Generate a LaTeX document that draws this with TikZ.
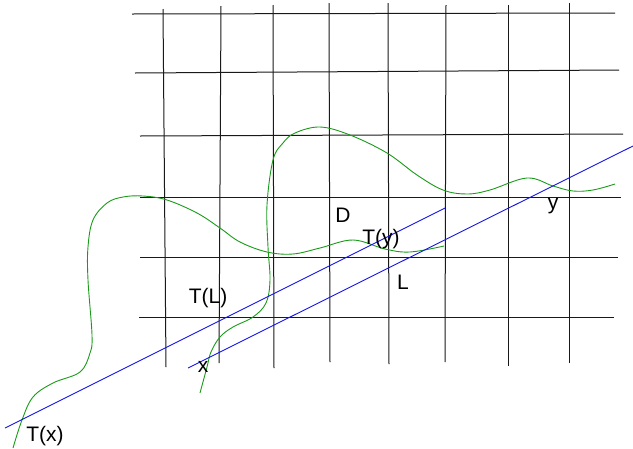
\documentclass[tikz,border=0pt]{standalone}
\usepackage{fontspec}
\setmainfont{Liberation Sans}
\begin{document}
\begin{tikzpicture}[x=1pt,y=-1pt,
  gridline/.style={black!90,line width=1pt},
  blueline/.style={draw={rgb,255:red,20;green,20;blue,230},line width=0.9pt},
  greencurve/.style={draw={rgb,255:red,25;green,155;blue,25},line width=0.9pt},
  lbl/.style={inner sep=0pt,font=\fontsize{21}{24}\selectfont}]
\useasboundingbox (0,0) rectangle (633,448);
% horizontal grid lines
\draw[gridline] (132,14) -- (615,13);
\draw[gridline] (135,73) -- (619,70);
\draw[gridline] (140,136) -- (623,134);
\draw[gridline] (140,197) -- (621,197);
\draw[gridline] (140,257) -- (618,257);
\draw[gridline] (139,317) -- (614,317);
% vertical grid lines
\draw[gridline] (163,9) -- (166,367);
\draw[gridline] (221,6) -- (219,363);
\draw[gridline] (273,5) -- (274,368);
\draw[gridline] (329,3) -- (330,362);
\draw[gridline] (388,3) -- (389,364);
\draw[gridline] (446,5) -- (445,362);
\draw[gridline] (508,5) -- (508,366);
\draw[gridline] (569,3) -- (569,363);
% green curves
\draw[greencurve] plot[smooth,tension=0.6] coordinates {(13,448) (22,420) (33,397) (53,383) (80,372) (90,353) (92,335) (88,280) (88,247) (93,220) (107,203) (123,197) (143,196) (167,200) (197,213) (220,228) (240,242) (267,252) (293,254) (320,248) (353,240) (385,249) (410,252) (444,246)};
\draw[greencurve] plot[smooth,tension=0.6] coordinates {(200,393) (207,367) (211,352) (220,337) (233,327) (253,317) (266,303) (270,280) (268,247) (267,205) (273,160) (283,143) (295,133) (320,127) (350,135) (387,153) (417,175) (443,190) (467,194) (490,190) (527,178) (553,186) (573,191) (593,190) (615,184)};
% blue lines
\coordinate (a1) at (5,428);
\coordinate (a2) at (445,208);
\coordinate (b1) at (188,368);
\coordinate (b2) at (633,146);
\draw[blueline] (a1) -- (a2);
\draw[blueline] (b1) -- (b2);
% labels
\node[lbl] (tx) at (45,436) {T(x)};
\node[lbl] (x) at (203,367) {x};
\node[lbl] (tl) at (208,298) {T(L)};
\node[lbl] (d) at (343,215) {D};
\node[lbl] (ty) at (381,239) {T(y)};
\node[lbl] (l) at (403,282) {L};
\node[lbl] (y) at (553,206) {y};
\end{tikzpicture}
\end{document}
